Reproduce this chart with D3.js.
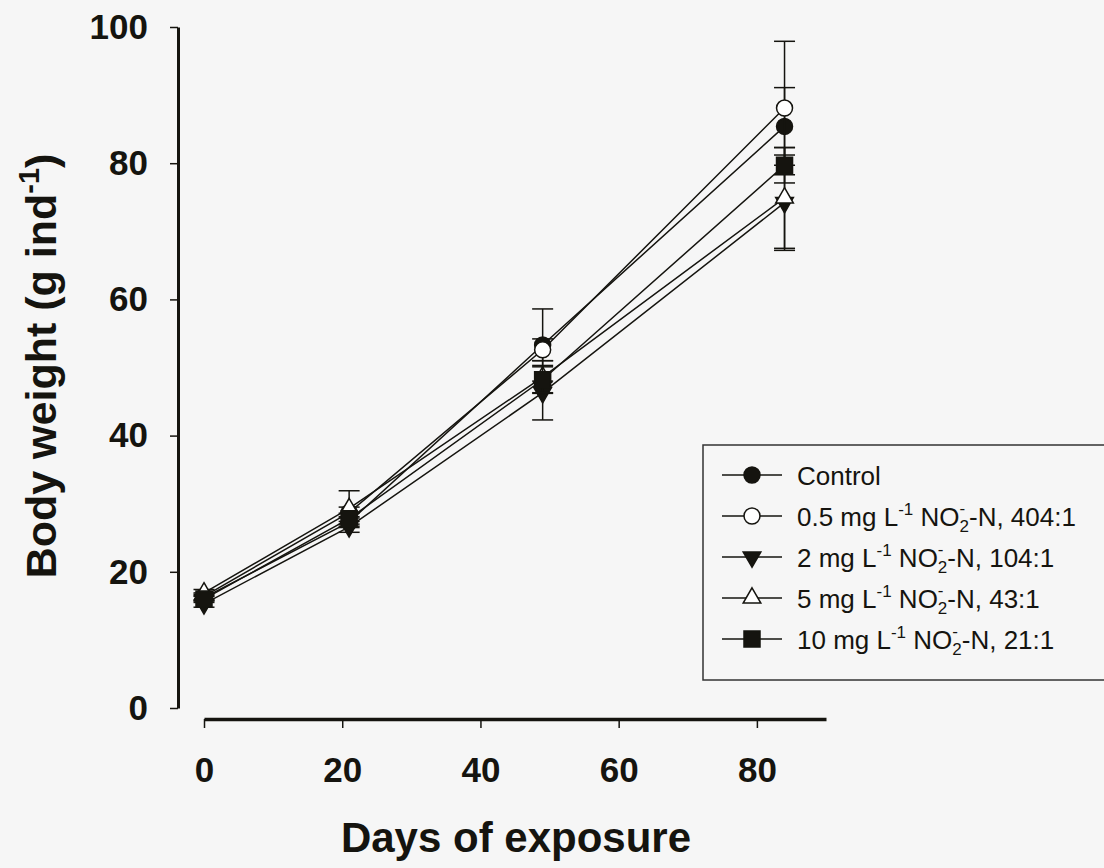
<!DOCTYPE html>
<html lang="en">
<head>
    <meta charset="UTF-8">
    <title>Body weight vs days of exposure</title>
    <script src="https://d3js.org/d3.v7.min.js"></script>
    <style>
        body { margin: 0; background: #f6f6f6; }
        svg { display: block; font-family: "Liberation Sans", Arial, sans-serif; }
        .axis text { font-weight: bold; font-size: 35px; fill: #15140f; }
        .axis path, .axis line { stroke: #15140f; }
        .series path.line { fill: none; stroke: #15140f; stroke-width: 1.5; }
        .err { stroke: #15140f; stroke-width: 1.5; }
    </style>
</head>
<body>
<div id="chart"></div>
<script>
// data
const days = [0, 21, 49, 84];
const seriesNames = ['Control', '0.5', '2', '5', '10'];
const control  = [16.2, 27.3, 53.3, 85.4];
const mg05     = [16.4, 28.7, 52.6, 88.1];
const mg2      = [15.3, 26.6, 46.3, 74.2];
const mg5      = [16.9, 29.3, 48.6, 74.9];
const mg10     = [16.0, 27.8, 48.2, 79.7];
const controlSE = [0.5, 0.8, 5.3, 5.7];
const mg05SE    = [0.5, 0.8, 1.6, 9.8];
const mg2SE     = [0.5, 0.8, 4.0, 7.0];
const mg5SE     = [0.5, 2.6, 2.4, 7.4];
const mg10SE    = [0.5, 0.8, 1.9, 2.6];
const xTicks = [0, 20, 40, 60, 80];
const yTicks = [0, 20, 40, 60, 80, 100];

const W = 1104, H = 868;
const ink = '#15140f';

const series = [
    { name: seriesNames[0], values: control, se: controlSE, shape: 'circle', fill: ink },
    { name: seriesNames[1], values: mg05, se: mg05SE, shape: 'circle', fill: '#fff' },
    { name: seriesNames[2], values: mg2, se: mg2SE, shape: 'down', fill: ink },
    { name: seriesNames[3], values: mg5, se: mg5SE, shape: 'up', fill: '#fff' },
    { name: seriesNames[4], values: mg10, se: mg10SE, shape: 'square', fill: ink }
];

const svg = d3.select('#chart').append('svg')
    .attr('width', W)
    .attr('height', H);

const x = d3.scaleLinear().domain([0, 90]).range([204, 826]);
const y = d3.scaleLinear().domain([0, 100]).range([708, 27]);

// marker path generator
function marker(shape) {
    if (shape === 'circle') return d3.symbol(d3.symbolCircle, 201)();
    if (shape === 'square') return d3.symbol(d3.symbolSquare, 256)();
    return d3.symbol(d3.symbolTriangle, 135)();
}
function markerTransform(shape, px, py) {
    if (shape === 'down') return `translate(${px},${py}) rotate(180)`;
    return `translate(${px},${py})`;
}

// axes
svg.append('g')
    .attr('class', 'axis')
    .attr('transform', 'translate(178,0)')
    .call(d3.axisLeft(y).tickValues(yTicks).tickSize(8).tickSizeOuter(0).tickPadding(22))
    .call(g => g.select('.domain').attr('stroke-width', 3))
    .call(g => g.selectAll('.tick line').attr('stroke-width', 1.5));

svg.append('g')
    .attr('class', 'axis')
    .attr('transform', 'translate(0,719)')
    .call(d3.axisBottom(x).tickValues(xTicks).tickSize(9).tickSizeOuter(0).tickPadding(29))
    .call(g => g.select('.domain').attr('stroke-width', 3.5))
    .call(g => g.selectAll('.tick line').attr('stroke-width', 1.5));

// axis titles
svg.append('text')
    .attr('x', 516)
    .attr('y', 852)
    .attr('text-anchor', 'middle')
    .style('font-weight', 'bold')
    .style('font-size', '42px')
    .style('fill', ink)
    .text('Days of exposure');

const yTitle = svg.append('text')
    .attr('transform', 'translate(56,366) rotate(-90)')
    .attr('text-anchor', 'middle')
    .style('font-weight', 'bold')
    .style('font-size', '43px')
    .style('fill', ink);
yTitle.append('tspan').text('Body weight (g ind');
yTitle.append('tspan').attr('dy', -17).style('font-size', '29px').text('-1');
yTitle.append('tspan').attr('dy', 17).text(')');

// series: error bars, line, markers
const line = d3.line()
    .x((d, i) => x(days[i]))
    .y(d => y(d));

series.forEach(s => {
    const g = svg.append('g').attr('class', 'series');

    const eb = g.selectAll('.eb')
        .data(s.values.map((v, i) => ({ day: days[i], v: v, se: s.se[i] })))
      .enter().append('g');
    eb.append('line').attr('class', 'err')
        .attr('x1', d => x(d.day)).attr('x2', d => x(d.day))
        .attr('y1', d => y(d.v + d.se)).attr('y2', d => y(d.v - d.se));
    eb.append('line').attr('class', 'err')
        .attr('x1', d => x(d.day) - 10.5).attr('x2', d => x(d.day) + 10.5)
        .attr('y1', d => y(d.v + d.se)).attr('y2', d => y(d.v + d.se));
    eb.append('line').attr('class', 'err')
        .attr('x1', d => x(d.day) - 10.5).attr('x2', d => x(d.day) + 10.5)
        .attr('y1', d => y(d.v - d.se)).attr('y2', d => y(d.v - d.se));

    g.append('path')
        .datum(s.values)
        .attr('class', 'line')
        .attr('d', line);

    g.selectAll('.pt')
        .data(s.values)
      .enter().append('path')
        .attr('d', marker(s.shape))
        .attr('transform', (d, i) => markerTransform(s.shape, x(days[i]), y(d)))
        .attr('fill', s.fill)
        .attr('stroke', ink)
        .attr('stroke-width', 1.5);
});

// legend
const legend = svg.append('g');
legend.append('rect')
    .attr('x', 703).attr('y', 445)
    .attr('width', 420).attr('height', 235)
    .attr('fill', 'none')
    .attr('stroke', '#333')
    .attr('stroke-width', 1.5);

const concs = ['0.5', '2', '5', '10'];
const ratios = ['404:1', '104:1', '43:1', '21:1'];

series.forEach((s, i) => {
    const cy = 475 + i * 41;
    const row = legend.append('g');
    row.append('line')
        .attr('x1', 722).attr('x2', 782)
        .attr('y1', cy).attr('y2', cy)
        .attr('stroke', ink).attr('stroke-width', 1.5);
    row.append('path')
        .attr('d', marker(s.shape))
        .attr('transform', markerTransform(s.shape, 752, cy))
        .attr('fill', s.fill)
        .attr('stroke', ink)
        .attr('stroke-width', 1.5);

    const t = row.append('text')
        .attr('x', 797).attr('y', cy + 10)
        .style('font-size', '26px')
        .style('fill', ink);
    if (i === 0) {
        t.text('Control');
    } else {
        t.append('tspan').text(`${concs[i - 1]} mg L`);
        t.append('tspan').attr('dy', -11).style('font-size', '17px').text('-1');
        t.append('tspan').attr('dy', 11).text(' NO');
        t.append('tspan').attr('dy', -12).style('font-size', '17px').text('-');
        t.append('tspan').attr('dx', -5.7).attr('dy', 18).style('font-size', '17px').text('2');
        t.append('tspan').attr('dy', -6).text(`-N, ${ratios[i - 1]}`);
    }
});
</script>
</body>
</html>
